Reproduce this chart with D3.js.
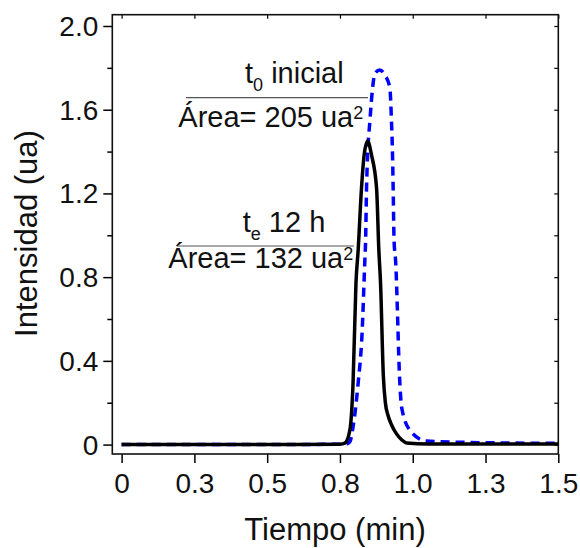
<!DOCTYPE html>
<html>
<head>
<meta charset="utf-8">
<script src="https://cdn.jsdelivr.net/npm/d3@7/dist/d3.min.js"></script>
<style>
  html, body { margin: 0; padding: 0; background: #fff; }
  svg { display: block; font-family: "Liberation Sans", Arial, sans-serif; }
</style>
</head>
<body>
<svg id="chart" width="580" height="548"></svg>
<script>
// ---- Data ----
const timeFinal = [0, 0.5, 0.75, 0.767, 0.784, 0.795, 0.805, 0.8125, 0.824, 0.833, 0.845, 0.8585, 0.8757, 0.8836, 0.8894, 0.899, 0.906, 0.915, 0.927, 0.945, 0.9626, 0.979, 1.05, 1.5];
const intensityFinal = [0, 0, 0.002, 0.007, 0.069, 0.294, 0.772, 0.929, 1.226, 1.383, 1.45, 1.383, 1.226, 0.929, 0.772, 0.33, 0.2, 0.14, 0.095, 0.05, 0.022, 0.008, 0.003, 0.003];

const timeInitial = [0, 0.5, 0.77, 0.784, 0.795, 0.8125, 0.826, 0.8355, 0.838, 0.8413, 0.845, 0.8527, 0.862, 0.870, 0.887, 0.904, 0.9214, 0.927, 0.9306, 0.9327, 0.936, 0.941, 0.9557, 0.9615, 0.990, 1.047, 1.2, 1.5];
const intensityInitial = [0, 0, 0.002, 0.013, 0.085, 0.294, 0.533, 0.882, 0.969, 1.224, 1.383, 1.543, 1.702, 1.774, 1.79, 1.766, 1.704, 1.543, 1.383, 1.226, 0.969, 0.882, 0.294, 0.181, 0.069, 0.017, 0.01, 0.006];

const xTickValues = [0, 0.25, 0.5, 0.75, 1.0, 1.25, 1.5];
const xTickLabels = ["0", "0.3", "0.5", "0.8", "1.0", "1.3", "1.5"];
const yTickValues = [0, 0.4, 0.8, 1.2, 1.6, 2.0];
const yTickLabels = ["0", "0.4", "0.8", "1.2", "1.6", "2.0"];
const yMinorValues = [0.2, 0.6, 1.0, 1.4, 1.8];

const xDomain = [-0.032, 1.5];
const yDomain = [-0.045, 2.054];

// ---- Layout ----
const L = 112.3, R = 558.3, T = 14.7, B = 454;
const svg = d3.select("#chart");

const x = d3.scaleLinear().domain(xDomain).range([L, R]);
const y = d3.scaleLinear().domain(yDomain).range([B, T]);

// Bottom axis
const gx = svg.append("g").attr("transform", `translate(0,${B})`)
  .call(d3.axisBottom(x).tickValues(xTickValues)
    .tickFormat((d, i) => xTickLabels[i]).tickSize(9).tickSizeOuter(0));
gx.select(".domain").remove();
gx.selectAll(".tick line").attr("stroke", "#000").attr("stroke-width", 1.5);
gx.selectAll(".tick text").attr("y", 39).attr("dy", 0)
  .attr("font-size", 28).attr("fill", "#111").attr("font-family", "Liberation Sans, Arial, sans-serif");

// Left axis
const gy = svg.append("g").attr("transform", `translate(${L},0)`)
  .call(d3.axisLeft(y).tickValues(yTickValues)
    .tickFormat((d, i) => yTickLabels[i]).tickSize(9).tickSizeOuter(0));
gy.select(".domain").remove();
gy.selectAll(".tick line").attr("stroke", "#000").attr("stroke-width", 1.5);
gy.selectAll(".tick text").attr("x", -14).attr("dy", "0.34em")
  .attr("font-size", 28).attr("fill", "#111").attr("font-family", "Liberation Sans, Arial, sans-serif");

// Left minor ticks
const gym = svg.append("g").attr("transform", `translate(${L},0)`)
  .call(d3.axisLeft(y).tickValues(yMinorValues).tickFormat("").tickSize(5).tickSizeOuter(0));
gym.select(".domain").remove();
gym.selectAll(".tick line").attr("stroke", "#000").attr("stroke-width", 1.5);

// Top mirror ticks (inward)
const gt = svg.append("g").attr("transform", `translate(0,${T})`)
  .call(d3.axisTop(x).tickValues(xTickValues).tickFormat("").tickSize(-4).tickSizeOuter(0));
gt.select(".domain").remove();
gt.selectAll(".tick line").attr("stroke", "#000").attr("stroke-width", 1.2);

// Right mirror ticks (inward)
const gr = svg.append("g").attr("transform", `translate(${R},0)`)
  .call(d3.axisRight(y).tickValues(yTickValues.concat(yMinorValues)).tickFormat("").tickSize(-4).tickSizeOuter(0));
gr.select(".domain").remove();
gr.selectAll(".tick line").attr("stroke", "#000").attr("stroke-width", 1.2);

// Frame
svg.append("rect").attr("x", L).attr("y", T).attr("width", R - L).attr("height", B - T)
  .attr("fill", "none").attr("stroke", "#111").attr("stroke-width", 1.6);

// Curves
const line = d3.line().x(d => x(d[0])).y(d => y(d[1])).curve(d3.curveMonotoneX);
const initialData = timeInitial.map((t, i) => [t, intensityInitial[i]]);
const finalData = timeFinal.map((t, i) => [t, intensityFinal[i]]);

svg.append("path").datum(initialData).attr("d", line)
  .attr("fill", "none").attr("stroke", "#0000ff").attr("stroke-width", 3.5)
  .attr("stroke-dasharray", "9,6");
svg.append("path").datum(finalData).attr("d", line)
  .attr("fill", "none").attr("stroke", "#000").attr("stroke-width", 3.5)
  .attr("stroke-linejoin", "round");

// Annotations
const fs = 29, fsSmall = 18;
function label(xp, yp) {
  return svg.append("text").attr("x", xp).attr("y", yp).attr("font-size", fs).attr("fill", "#111");
}
let t1 = label(245, 83);
t1.append("tspan").text("t");
t1.append("tspan").attr("font-size", fsSmall).attr("dy", 8).text("0");
t1.append("tspan").attr("dy", -8).text(" inicial");
svg.append("line").attr("x1", 186).attr("x2", 368).attr("y1", 97.7).attr("y2", 97.7)
  .attr("stroke", "#555").attr("stroke-width", 1.2);
let a1 = label(178.3, 126.7);
a1.append("tspan").text("Área= 205 ua");
a1.append("tspan").attr("font-size", fsSmall).attr("dy", -8).text("2");

let t2 = label(242.7, 231.5);
t2.append("tspan").text("t");
t2.append("tspan").attr("font-size", fsSmall).attr("dy", 8).text("e");
t2.append("tspan").attr("dy", -8).text(" 12 h");
svg.append("line").attr("x1", 176.7).attr("x2", 354).attr("y1", 246).attr("y2", 246)
  .attr("stroke", "#555").attr("stroke-width", 1.2);
let a2 = label(168.3, 268.3);
a2.append("tspan").text("Área= 132 ua");
a2.append("tspan").attr("font-size", fsSmall).attr("dy", -8).text("2");

// Axis titles
svg.append("text").attr("x", 335).attr("y", 540).attr("text-anchor", "middle")
  .attr("font-size", 31).attr("fill", "#111").text("Tiempo (min)");
svg.append("text").attr("transform", "translate(37,233.5) rotate(-90)").attr("text-anchor", "middle")
  .attr("font-size", 31).attr("fill", "#111").text("Intensidad (ua)");
</script>
</body>
</html>
